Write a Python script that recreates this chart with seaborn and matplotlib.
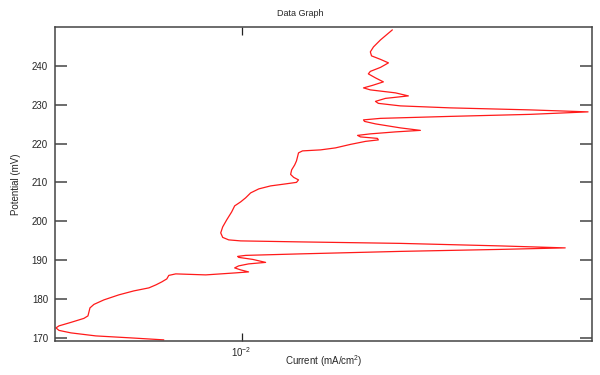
import numpy as np
import pandas as pd
import matplotlib
matplotlib.use('Agg')
import matplotlib.pyplot as plt
import seaborn as sns

# potential (mV) and current density (mA/cm2), in scan order
potential = [169.49, 170.0, 170.51, 171.29, 171.93, 172.57, 173.09, 173.99, 175.02, 175.66,
             176.69, 177.72, 178.62, 179.78, 181.07, 182.09, 182.87, 183.64, 184.41, 185.18,
             186.08, 186.47, 186.34, 186.21, 186.47, 186.73, 186.98, 187.50, 188.01, 188.53,
             189.04, 189.43, 190.20, 190.72, 190.97, 191.23, 191.62, 192.26, 192.77, 193.16,
             193.67, 194.32, 194.70, 194.96, 195.22, 195.86, 197.02, 198.56, 200.37, 202.42,
             203.97, 205.00, 206.03, 207.31, 208.34, 209.11, 209.63, 210.02, 210.66, 211.30,
             212.07, 213.23, 214.52, 215.55, 216.58, 217.61, 218.12, 218.38, 218.89, 219.79,
             220.57, 220.95, 221.34, 221.72, 222.11, 222.50, 223.01, 223.40, 224.04, 225.07,
             225.71, 226.10, 226.49, 227.00, 227.52, 228.16, 228.67, 229.19, 229.70, 230.35,
             230.86, 231.63, 232.27, 233.05, 233.82, 234.33, 234.98, 235.88, 236.91, 237.94,
             238.58, 239.61, 240.77, 241.67, 242.57, 243.60, 244.88, 246.68, 249.26]
current = [0.007737, 0.00694, 0.006185, 0.005697, 0.005477, 0.005423, 0.005477, 0.005697, 0.005946, 0.006026,
           0.006046, 0.006066, 0.006146, 0.006351, 0.006671, 0.007008, 0.007366, 0.007538, 0.007686, 0.007814,
           0.007865, 0.008048, 0.008455, 0.008883, 0.009333, 0.009805, 0.01023, 0.009967, 0.009772, 0.009902,
           0.01023, 0.01082, 0.01037, 0.009902, 0.009869, 0.01013, 0.01214, 0.01687, 0.02344, 0.02904,
           0.02344, 0.01687, 0.01214, 0.009967, 0.009582, 0.009394, 0.009333, 0.009394, 0.009519, 0.009676,
           0.009772, 0.009967, 0.01013, 0.01030, 0.01058, 0.01100, 0.01156, 0.01198, 0.01206, 0.01187,
           0.01175, 0.01179, 0.01191, 0.01198, 0.01202, 0.01206, 0.01222, 0.01297, 0.01362, 0.01431,
           0.01504, 0.01569, 0.01564, 0.01479, 0.01465, 0.01528, 0.01660, 0.01802, 0.01687, 0.01554,
           0.01499, 0.01494, 0.01580, 0.01989, 0.02587, 0.03131, 0.02587, 0.01989, 0.01687, 0.01569,
           0.01554, 0.01606, 0.01732, 0.01660, 0.01528, 0.01494, 0.01539, 0.01595, 0.01554, 0.01518,
           0.01528, 0.01580, 0.01622, 0.01580, 0.01534, 0.01528, 0.01544, 0.01580, 0.01643]

df = pd.DataFrame({'current': current, 'potential': potential})

sns.set_style('white')
plt.rcParams['font.family'] = ['Liberation Sans', 'DejaVu Sans']
plt.rcParams['mathtext.fontset'] = 'custom'
plt.rcParams['mathtext.rm'] = 'Liberation Sans'
plt.rcParams['mathtext.it'] = 'Liberation Sans'

fig = plt.figure(figsize=(6, 3.75), dpi=100)
ax = fig.add_axes([55/600, 1-341/375, 537/600, 314/375])
sns.lineplot(data=df, x='current', y='potential', sort=False, estimator=None,
             color='#ff1a1a', linewidth=0.9, ax=ax)
ax.set_xscale('log')
ax.set_xlim(0.005406, 0.03172)
ax.set_ylim(169.2, 250.0)
ax.set_yticks([170, 180, 190, 200, 210, 220, 230, 240])
ax.set_xticks([0.01])
ax.xaxis.set_minor_locator(matplotlib.ticker.NullLocator())

for s in ax.spines.values():
    s.set_color('#444444')
    s.set_linewidth(1.1)
ax.tick_params(axis='y', which='major', direction='in', length=8.5, width=1.1,
               color='#444444', left=True, right=True, labelsize=7, pad=5)
ax.tick_params(axis='x', which='major', direction='in', length=6, width=0.9,
               color='#222222', bottom=True, top=True, labelsize=7, pad=3)

ax.set_xlabel('Current (mA/cm$^2$)', fontsize=7, labelpad=-4)
ax.set_ylabel('Potential (mV)', fontsize=7, labelpad=8)
fig.suptitle('Data Graph', fontsize=6.5, x=0.5, y=1-13/375, va='center')

fig.savefig('out.png', dpi=100)
